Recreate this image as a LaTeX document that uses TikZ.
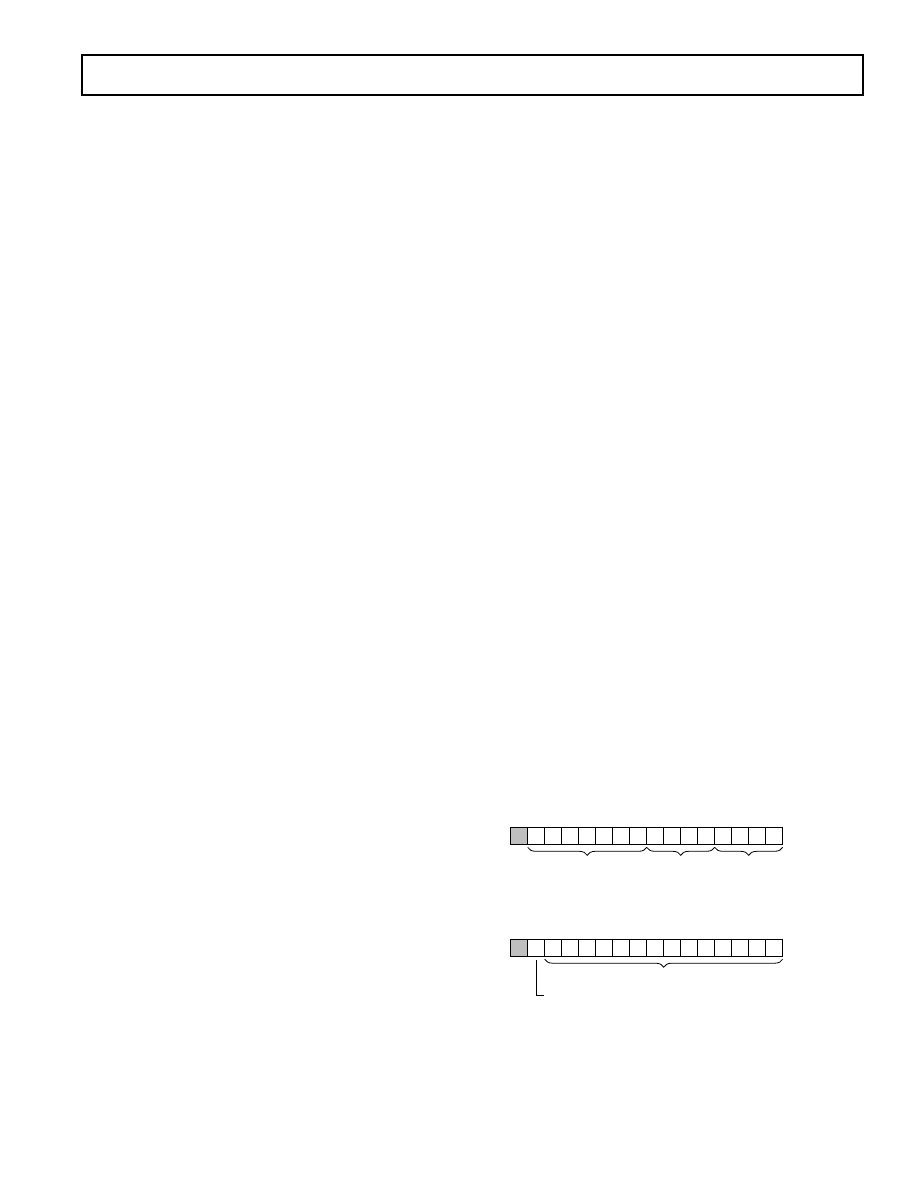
\documentclass[tikz,border=0pt]{standalone}
\usetikzlibrary{decorations.pathreplacing}
\tikzset{x=1pt, y=-1pt,
    bitcell/.style={draw, line width=0.9pt, minimum size=17pt, inner sep=0pt, outer sep=0pt},
    signbit/.style={bitcell, fill=black!25},
    regbrace/.style={decorate, decoration={brace, mirror, amplitude=8pt, raise=3pt}, line width=0.8pt},
    }
\begin{document}
\begin{tikzpicture}
\useasboundingbox (0,0) rectangle (918,1188);
\draw[line width=1.6pt] (82,55) rectangle (863,95);
% first register
\node[signbit] (a0) at (519.2,835.8) {};
\foreach \i [remember=\i as \j (initially 0)] in {1,...,15}
  \node[bitcell, anchor=west] (a\i) at (a\j.east) {};
\draw[regbrace] (a1.south west) -- (a7.south east);
\draw[regbrace] (a8.south west) -- (a11.south east);
\draw[regbrace] (a12.south west) -- (a15.south east);
% second register
\node[signbit] (b0) at (519.2,947.7) {};
\foreach \i [remember=\i as \j (initially 0)] in {1,...,15}
  \node[bitcell, anchor=west] (b\i) at (b\j.east) {};
\draw[regbrace] (b2.south west) -- (b15.south east);
\coordinate (signend) at (544,995.7);
\draw[line width=0.8pt] (b1.south) ++(0,4) |- (signend);
\end{tikzpicture}
\end{document}
